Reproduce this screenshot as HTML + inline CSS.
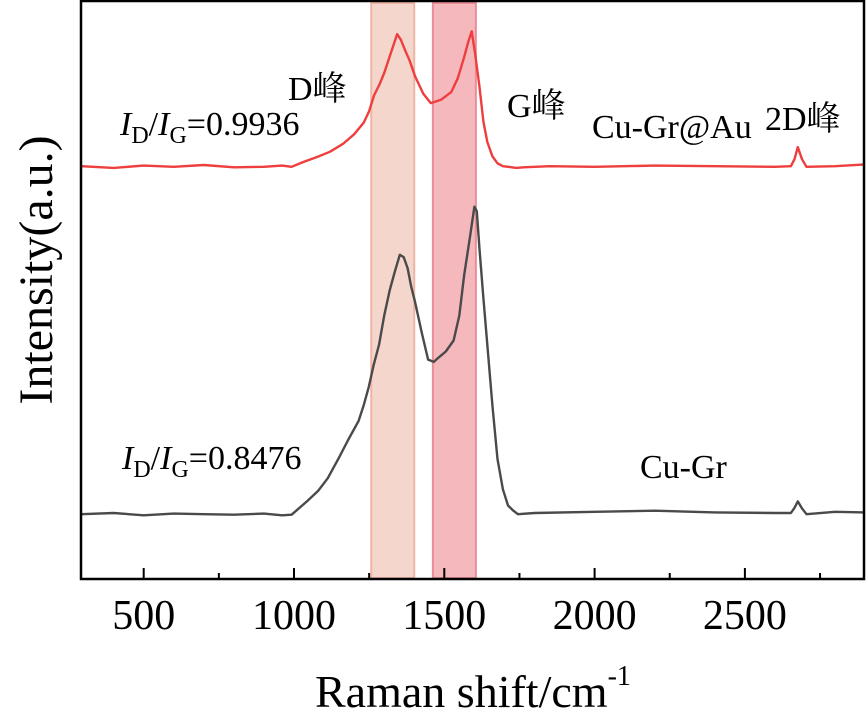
<!DOCTYPE html>
<html><head><meta charset="utf-8"><style>
html,body{margin:0;padding:0;background:#fff;}
svg{display:block;}
svg text{font-family:"Liberation Serif","Noto Serif CJK SC",serif;}
</style></head><body>
<svg id="chart" width="867" height="717" viewBox="0 0 867 717" xmlns="http://www.w3.org/2000/svg">
<g id="bands"></g>
<g id="series"></g>
<rect x="81" y="1" width="783" height="578" fill="none" stroke="#000" stroke-width="2.5"/>
<g id="ticks"></g>
<text x="315" y="707" font-size="46" font-family="Liberation Serif, serif">Raman shift/cm<tspan font-size="28" dy="-22">-1</tspan></text>
<text transform="translate(52,270) rotate(-90)" text-anchor="middle" font-size="48" font-family="Liberation Serif, serif">Intensity(a.u.)</text>
<text x="120" y="135" font-size="34" font-family="Liberation Serif, serif"><tspan font-style="italic">I</tspan><tspan font-size="24" dy="8">D</tspan><tspan dy="-8">/</tspan><tspan font-style="italic">I</tspan><tspan font-size="24" dy="8">G</tspan><tspan dy="-8">=0.9936</tspan></text>
<text x="288" y="100" font-size="34">D峰</text>
<text x="507" y="117" font-size="34">G峰</text>
<text x="592" y="138" font-size="34" font-family="Liberation Serif, serif">Cu-Gr@Au</text>
<text x="765" y="130" font-size="34">2D峰</text>
<text x="122" y="469" font-size="34" font-family="Liberation Serif, serif"><tspan font-style="italic">I</tspan><tspan font-size="24" dy="8">D</tspan><tspan dy="-8">/</tspan><tspan font-style="italic">I</tspan><tspan font-size="24" dy="8">G</tspan><tspan dy="-8">=0.8476</tspan></text>
<text x="640" y="478" font-size="34" font-family="Liberation Serif, serif">Cu-Gr</text>
</svg>
<script>
const xTicks=[500,1000,1500,2000,2500];
const xMinorTicks=[750,1250,1750,2250,2750];
const bandRanges=[[1257,1400],[1462,1605]];
const redShift=[293,400,500,600,700,800,900,960,992,1030,1078,1120,1164,1200,1232,1250,1266,1285,1300,1320,1343,1355,1369,1385,1403,1430,1455,1490,1523,1545,1566,1580,1591,1603,1617,1630,1643,1660,1677,1695,1712,1740,1763,1850,2000,2200,2400,2600,2653,2665,2676,2690,2705,2800,2900];
const redInt=[71.3,71.0,71.4,71.2,71.5,71.1,71.2,71.4,71.2,72.0,72.9,73.8,75.2,76.8,78.8,80.8,83.5,85.5,87.4,90.5,94.1,93.2,91.4,89.5,86.8,83.8,82.2,82.8,84.1,86.5,90.1,92.8,94.6,90.5,85.0,79.0,75.5,73.0,71.8,71.3,71.2,71.0,71.1,71.3,71.2,71.4,71.3,71.2,71.3,72.5,74.6,72.5,71.2,71.3,71.6];
const blackShift=[293,400,500,600,700,800,900,960,992,1043,1080,1112,1150,1180,1215,1232,1249,1265,1283,1300,1318,1335,1352,1365,1378,1390,1403,1425,1446,1465,1480,1505,1531,1550,1566,1585,1600,1608,1617,1630,1643,1660,1677,1695,1712,1730,1745,1800,2000,2200,2400,2600,2653,2665,2676,2690,2705,2800,2900];
const blackInt=[11.2,11.4,11.0,11.3,11.2,11.1,11.3,11.0,11.1,13.4,15.2,17.4,21.0,24.0,27.3,30.0,33.2,37.0,40.5,45.5,49.8,53.0,56.0,55.6,53.7,50.5,47.8,42.5,37.9,37.5,38.2,39.3,41.2,45.5,52.4,59.0,64.3,63.5,57.0,48.5,40.5,30.0,20.7,15.5,12.7,11.8,11.2,11.4,11.6,11.8,11.5,11.4,11.4,12.3,13.4,12.2,11.2,11.6,11.5];
const NS="http://www.w3.org/2000/svg";
const xScale=v=>294+(v-1000)*0.3006;
const yScale=v=>579-v*5.79;
const bands=document.getElementById('bands');
const bandFill=['#f4d6cc','#f5b9bd'],bandStroke=['#efb5a4','#e98e96'];
bandRanges.forEach((r,i)=>{
 const el=document.createElementNS(NS,'rect');
 
 
 el.setAttribute('x',xScale(r[0]));el.setAttribute('y',3);
 el.setAttribute('width',xScale(r[1])-xScale(r[0]));el.setAttribute('height',575);
 el.setAttribute('fill',bandFill[i]);el.setAttribute('stroke',bandStroke[i]);el.setAttribute('stroke-width',2);
 bands.appendChild(el);
});
const series=document.getElementById('series');
function line(xs,ys,color,name){
 const el=document.createElementNS(NS,'polyline');
 
 
 el.setAttribute('points',xs.map((x,i)=>xScale(x).toFixed(1)+','+yScale(ys[i]).toFixed(1)).join(' '));
 el.setAttribute('fill','none');el.setAttribute('stroke',color);el.setAttribute('stroke-width',2.4);
 el.setAttribute('stroke-linejoin','round');
 series.appendChild(el);
}
line(redShift,redInt,'#ee3e3e','cu-gr-au-spectrum');
line(blackShift,blackInt,'#4a4a4a','cu-gr-spectrum');
const ticks=document.getElementById('ticks');
xTicks.forEach(t=>{
 const l=document.createElementNS(NS,'line');
 
 
 l.setAttribute('x1',xScale(t));l.setAttribute('x2',xScale(t));l.setAttribute('y1',579);l.setAttribute('y2',568);
 l.setAttribute('stroke','#000');l.setAttribute('stroke-width',2);
 ticks.appendChild(l);
 const tx=document.createElementNS(NS,'text');
 
 
 tx.setAttribute('x',xScale(t));tx.setAttribute('y',629);
 tx.setAttribute('text-anchor','middle');tx.setAttribute('font-size','42');
 tx.textContent=t;
 ticks.appendChild(tx);
});
xMinorTicks.forEach(t=>{
 const l=document.createElementNS(NS,'line');
 
 
 l.setAttribute('x1',xScale(t));l.setAttribute('x2',xScale(t));l.setAttribute('y1',579);l.setAttribute('y2',573);
 l.setAttribute('stroke','#000');l.setAttribute('stroke-width',2);
 ticks.appendChild(l);
});
</script>
</body></html>
